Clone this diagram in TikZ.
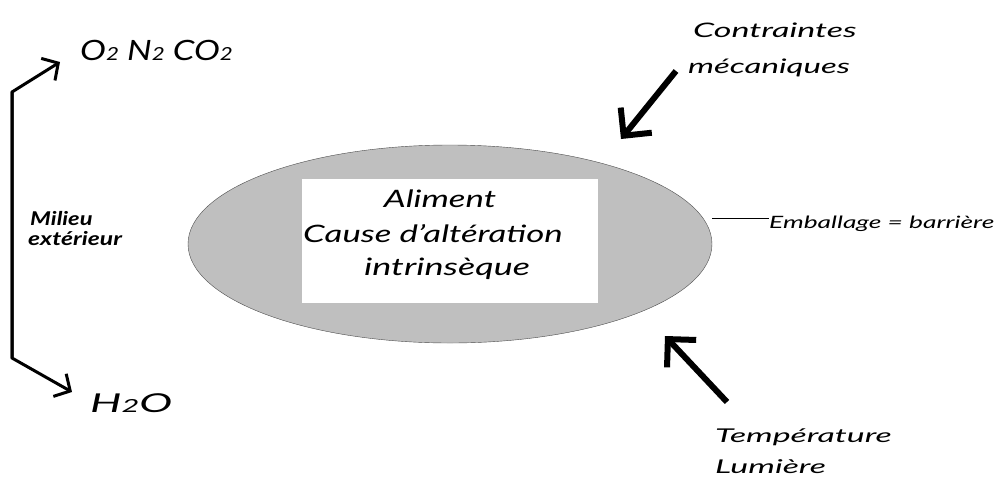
\documentclass[tikz,border=0pt]{standalone}
\usepackage{fontspec}
\usepackage{graphicx}
\setmainfont{Lato}
\usetikzlibrary{arrows.meta,shapes.geometric}
\newcommand\sxx[2]{\scalebox{#1}[1]{#2}}
\newcommand\subtwo{{\fontsize{18}{18}\selectfont 2}}
\begin{document}
\begin{tikzpicture}[x=1pt,y=-1pt,
  lbl/.style={inner sep=0pt},
  thickarrow/.style={line width=6pt, -{Straight Barb[length=20pt,width=40pt,line width=6pt]}},
  thinarrow/.style={line width=3pt, -{Straight Barb[length=12pt,width=26pt,line width=3pt]}}]
\useasboundingbox (0,0) rectangle (1002,491);
% ellipse and inner box
\node (food) [draw=black!70, fill=black!25, ellipse, minimum width=524pt, minimum height=198pt, inner sep=0pt] at (450,244) {};
\node (box) [fill=white, minimum width=296pt, minimum height=124pt, inner sep=0pt] at (450,241) {};
\node (t1) [lbl, font=\itshape\fontsize{24}{24}\selectfont, anchor=base] at (440,207) {\sxx{1.45}{Aliment}};
\node (t2) [lbl, font=\itshape\fontsize{24}{24}\selectfont, anchor=base] at (433,242) {\sxx{1.45}{Cause d'altération}};
\node (t3) [lbl, font=\itshape\fontsize{24}{24}\selectfont, anchor=base] at (447,275) {\sxx{1.5}{intrinsèque}};
% emballage
\coordinate (eR) at (712,218);
\node (emb) [lbl, font=\itshape\fontsize{17}{17}\selectfont, anchor=base west] at (769,228) {\sxx{1.55}{Emballage = barrière}};
\draw[line width=0.8pt] (eR) -- (eR -| emb.west);
% gases
\node (gas) [lbl, font=\itshape\fontsize{28}{28}\selectfont, anchor=base west] at (80,60) {\sxx{1.24}{O\subtwo{} N\subtwo{} CO\subtwo}};
\node (h2o) [lbl, font=\itshape\fontsize{26}{26}\selectfont, anchor=base west] at (90,412) {\sxx{1.7}{H\subtwo O}};
\coordinate (top) at (12,92);
\coordinate (bot) at (12,358);
\coordinate (gtip) at (60,62);
\coordinate (htip) at (72,392);
\draw[thinarrow] (bot) -- (top) -- (gtip);
\draw[thinarrow] (top) -- (bot) -- (htip);
\node (mil1) [lbl, font=\bfseries\itshape\fontsize{19}{19}\selectfont, anchor=base west] at (30,225) {\sxx{1.25}{Milieu}};
\node (mil2) [lbl, font=\bfseries\itshape\fontsize{19}{19}\selectfont, anchor=base west] at (28,245) {\sxx{1.3}{extérieur}};
% contraintes
\node (c1) [lbl, font=\itshape\fontsize{20}{20}\selectfont, anchor=base west] at (693,37) {\sxx{1.7}{Contraintes}};
\node (c2) [lbl, font=\itshape\fontsize{20}{20}\selectfont, anchor=base west] at (688,73) {\sxx{1.65}{mécaniques}};
\coordinate (cs) at (676,71);
\coordinate (ce) at (621,139);
\draw[thickarrow] (cs) -- (ce);
% temperature
\node (tp1) [lbl, font=\itshape\fontsize{19}{19}\selectfont, anchor=base west] at (715,442) {\sxx{1.78}{Température}};
\node (tp2) [lbl, font=\itshape\fontsize{19}{19}\selectfont, anchor=base west] at (715,473) {\sxx{1.78}{Lumière}};
\coordinate (ts) at (727,402);
\coordinate (te) at (665,336);
\draw[thickarrow] (ts) -- (te);
\end{tikzpicture}
\end{document}
